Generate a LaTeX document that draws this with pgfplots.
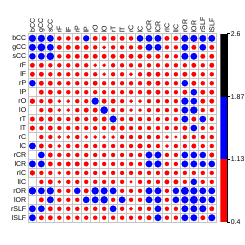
\documentclass[border=0pt]{standalone}
\usepackage{pgfplots}
\usepackage{pgfplotstable}
\pgfplotsset{compat=1.18}
\usepackage{fontspec}
\setmainfont{Liberation Sans}
\pgfplotstableread[row sep=\\]{v\\
1.6\\1.6\\1.5\\0.85\\0.85\\0.85\\1.35\\0.95\\0.95\\0.95\\0.95\\0.85\\1.45\\1.5\\1.5\\0.95\\0.95\\1.55\\1.55\\1.5\\1.5\\
1.55\\1.75\\1.5\\0.95\\0.95\\0.95\\0.95\\0.8\\0.65\\0.8\\0.8\\0.8\\0.95\\1.5\\1.5\\0.8\\0.8\\1.5\\0.95\\1.45\\0.95\\
1.4\\1.5\\1.7\\0.8\\0.95\\0.95\\0.95\\0.95\\0.95\\0.95\\0.95\\0.95\\0.95\\0.95\\0.95\\0.8\\0.8\\1.55\\1.5\\0.95\\0.95\\
0.95\\0.95\\0.8\\0.8\\0.8\\0.8\\0.8\\0.65\\0.65\\0.8\\0.8\\0.8\\0.8\\0.8\\0.8\\0.8\\0.8\\0.8\\0.95\\0.8\\0.95\\
0.95\\0.95\\0.8\\0.8\\0.8\\0.8\\0.8\\0.8\\0.65\\0.8\\0.8\\0.65\\0.8\\0.95\\0.95\\0.8\\0.8\\0.95\\0.95\\0.8\\0.8\\
0.95\\0.95\\0.95\\0.8\\0.8\\0.8\\0.8\\0.95\\0.8\\0.8\\0.8\\0.8\\0.8\\0.95\\0.95\\0.8\\0.8\\1.4\\0.95\\0.8\\0.8\\
1.4\\0.95\\0.95\\0.8\\0.8\\0.8\\0.8\\0.8\\0.8\\0.8\\0.8\\0.8\\0.8\\0.95\\0.95\\0.8\\0.8\\0.95\\1.4\\0.95\\0.95\\
0.95\\0.8\\0.95\\0.65\\0.65\\0.8\\0.8\\1.6\\0.95\\0.95\\0.8\\0.65\\0.65\\0.8\\0.8\\0.8\\0.8\\1.6\\1.45\\0.95\\0.95\\
0.95\\0.8\\0.95\\0.65\\0.65\\0.8\\0.95\\0.95\\1.7\\0.8\\0.8\\0.65\\0.65\\0.8\\0.8\\0.8\\0.8\\1.5\\1.65\\0.8\\0.8\\
0.95\\0.95\\0.95\\0.8\\0.8\\0.95\\0.8\\0.95\\0.95\\1.55\\0.8\\0.8\\0.8\\0.8\\0.8\\0.8\\0.8\\1.5\\0.95\\1.45\\0.8\\
0.95\\0.8\\0.95\\0.8\\0.8\\0.8\\0.8\\0.8\\0.8\\0.95\\0.95\\0.8\\0.8\\0.8\\0.8\\0.8\\0.8\\0.95\\1.45\\0.8\\0.8\\
0.8\\0.8\\0.8\\0.65\\0.65\\0.8\\0.65\\0.65\\0.65\\0.65\\0.8\\0.8\\0.8\\0.8\\0.8\\0.65\\0.45\\0.8\\0.8\\0.8\\0.8\\
1.3\\0.95\\0.8\\0.65\\0.8\\0.8\\0.8\\0.8\\0.8\\0.8\\0.8\\0.8\\1.0\\0.8\\0.8\\0.65\\0.8\\0.8\\0.95\\0.8\\0.8\\
1.45\\1.45\\0.95\\0.8\\0.8\\0.8\\0.8\\0.8\\0.8\\0.8\\0.8\\0.8\\0.8\\1.5\\1.5\\0.8\\0.8\\1.45\\1.45\\1.4\\0.95\\
1.5\\1.5\\0.95\\0.8\\0.95\\0.95\\0.95\\0.8\\0.8\\0.8\\0.8\\0.8\\0.8\\1.5\\1.55\\0.8\\0.8\\1.5\\1.5\\1.35\\1.45\\
0.95\\0.8\\0.8\\0.65\\0.8\\0.8\\0.8\\0.8\\0.8\\0.8\\0.8\\0.8\\0.8\\0.8\\0.8\\0.95\\0.8\\0.8\\0.8\\0.8\\0.8\\
0.95\\0.8\\0.95\\0.65\\0.8\\0.8\\0.8\\0.8\\0.8\\0.8\\0.8\\0.45\\0.8\\0.8\\0.8\\0.95\\0.95\\0.8\\1.4\\0.8\\0.8\\
1.5\\1.5\\1.6\\0.8\\0.8\\1.4\\0.95\\1.65\\1.55\\1.5\\0.8\\0.8\\0.8\\1.5\\1.5\\0.8\\1.4\\1.8\\1.6\\1.5\\1.5\\
1.6\\0.95\\1.5\\0.8\\0.8\\0.8\\1.45\\1.5\\1.65\\0.8\\1.45\\0.8\\0.8\\1.5\\1.5\\0.8\\1.45\\1.6\\1.8\\1.5\\1.5\\
1.5\\1.45\\0.95\\0.8\\0.8\\0.8\\0.8\\0.8\\0.8\\1.45\\0.8\\0.65\\0.8\\0.8\\1.45\\0.8\\0.8\\1.5\\1.5\\1.55\\0.95\\
1.5\\0.95\\0.95\\0.8\\0.8\\0.8\\0.8\\0.8\\0.8\\0.8\\0.8\\0.8\\0.8\\0.95\\1.5\\0.8\\0.8\\1.5\\1.5\\0.95\\1.55\\
}\cmdata
\pgfplotstablecreatecol[create col/expr={int(mod(\pgfplotstablerow,21)+1)}]{cx}\cmdata
\pgfplotstablecreatecol[create col/expr={int(floor(\pgfplotstablerow/21)+1)}]{cy}\cmdata
\pgfplotsset{
  bubble/.style={scatter, only marks, mark=*, #1,
    mark options={draw=#1, fill=#1, line width=0.1pt},
    unbounded coords=discard,
    visualization depends on={\thisrow{v}\as\vv},
    scatter/@pre marker code/.code={%
      \pgfmathsetmacro\ms{0.65+1.8*\vv}%
      \scope[mark size=\ms pt, draw=#1, fill=#1]},
    scatter/@post marker code/.code={\endscope}},
}
\begin{document}
\begin{tikzpicture}[x=1pt,y=1pt]
\path (0,0) rectangle (245,245);
\begin{axis}[
  at={(28pt,22pt)}, anchor=south west,
  width=189pt, height=189pt, scale only axis,
  xmin=0.5, xmax=21.5, ymin=0.5, ymax=21.5, y dir=reverse,
  xtick={1,...,21}, ytick={1,...,21},
  xticklabels={bCC,gCC,sCC,rF,lF,rP,lP,rO,lO,rT,lT,rC,lC,rCR,lCR,rIC,lIC,rOR,lOR,rSLF,lSLF},
  yticklabels={bCC,gCC,sCC,rF,lF,rP,lP,rO,lO,rT,lT,rC,lC,rCR,lCR,rIC,lIC,rOR,lOR,rSLF,lSLF},
  xticklabel pos=top,
  x tick label style={rotate=90, anchor=west, font=\fontsize{7}{8}\selectfont, inner sep=1pt},
  y tick label style={font=\fontsize{7}{8}\selectfont, inner sep=1.5pt},
  major tick length=0pt,
  minor xtick={0.5,1.5,...,21.5}, minor ytick={0.5,1.5,...,21.5},
  minor tick length=0pt,
  xminorgrids, yminorgrids,
  minor grid style={draw=gray!45, line width=0.8pt},
  axis line style={draw=gray!45, line width=0.8pt},
  clip=false,
]
\addplot[bubble=red, restrict expr to domain={\thisrow{v}}{0:1.133}]
  table[x=cx, y=cy] {\cmdata};
\addplot[bubble=blue, restrict expr to domain={\thisrow{v}}{1.133:1.867}]
  table[x=cx, y=cy] {\cmdata};
\end{axis}
\begin{axis}[
  at={(221pt,22pt)}, anchor=south west,
  width=7pt, height=189pt, scale only axis,
  xmin=0, xmax=1, ymin=0.4, ymax=2.6,
  axis x line=none, axis y line*=right,
  y axis line style={draw=black, line width=0.8pt, -},
  ytick={0.4,1.133,1.867,2.6}, yticklabels={0.4,1.13,1.87,2.6},
  ytick style={draw=black, line width=0.8pt}, major tick length=3pt,
  tick align=outside,
  y tick label style={font=\fontsize{7}{8}\selectfont, inner sep=0.5pt},
]
\addplot[fill=red, draw=none] coordinates {(0,0.4) (1,0.4) (1,1.133) (0,1.133)} -- cycle;
\addplot[fill=blue, draw=none] coordinates {(0,1.133) (1,1.133) (1,1.867) (0,1.867)} -- cycle;
\addplot[fill=black, draw=none] coordinates {(0,1.867) (1,1.867) (1,2.6) (0,2.6)} -- cycle;
\end{axis}
\end{tikzpicture}
\end{document}
